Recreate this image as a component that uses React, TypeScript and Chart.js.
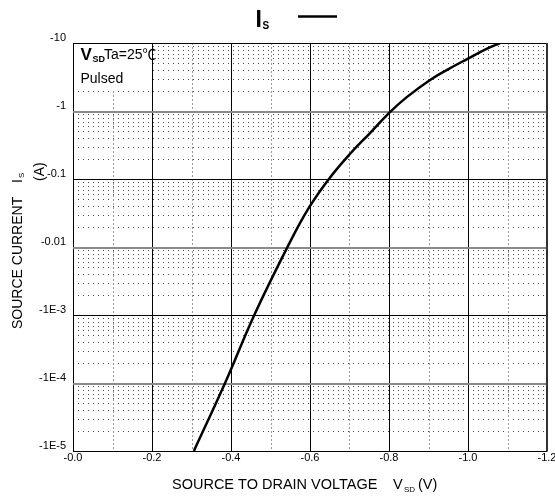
import React, { useEffect, useRef } from "react";
import { Chart, registerables } from "chart.js";

Chart.register(...registerables);

// ---- data ----
const seriesMain = "I";
const seriesSub = "S";
const vsdVolts = [-0.306, -0.385, -0.459, -0.543, -0.595, -0.646, -0.701, -0.752, -0.803, -0.845, -0.904, -0.946, -1.0, -1.047, -1.081];
const isAmps = [-1e-5, -1e-4, -1e-3, -1e-2, -0.036, -0.097, -0.233, -0.474, -0.97, -1.6, -2.86, -4.0, -5.9, -8.2, -10];

const xTickValues = [0, -0.2, -0.4, -0.6, -0.8, -1.0, -1.2];
const xTickLabels = ["-0.0", "-0.2", "-0.4", "-0.6", "-0.8", "-1.0", "-1.2"];
const xMinorValues = [-0.1, -0.3, -0.5, -0.7, -0.9, -1.1];
const yTickValues = [1e-5, 1e-4, 1e-3, 1e-2, 0.1, 1, 10];
const yTickLabels = ["-1E-5", "-1E-4", "-1E-3", "-0.01", "-0.1", "-1", "-10"];
const yMinorMultipliers = [2, 3, 4, 5, 6, 7, 8, 9];

const xTitle = "SOURCE TO DRAIN VOLTAGE";
const xTitleSym = "V";
const xTitleSub = "SD";
const xTitleUnit = "(V)";
const yTitle = "SOURCE CURRENT";
const yTitleSym = "I";
const yTitleSub = "S";
const yTitleUnit = "(A)";
const insetSym = "V";
const insetSub = "SD";
const insetCond = "Ta=25℃";
const insetMode = "Pulsed";

const FAM = '"Liberation Sans", Arial, "Noto Sans CJK SC", sans-serif';

const gridPlugin = {
  id: "customGrid",
  beforeDatasetsDraw(chart: any) {
    const { ctx, chartArea, scales } = chart;
    const { left, right, top, bottom } = chartArea;
    const xs = scales.x;
    const ys = scales.y;
    ctx.save();
    // minor horizontal dotted
    ctx.strokeStyle = "#4a4a4a";
    ctx.lineWidth = 1;
    ctx.setLineDash([1, 4]);
    for (let d = 0; d < yTickValues.length - 1; d++) {
      for (const m of yMinorMultipliers) {
        const py = Math.round(ys.getPixelForValue(yTickValues[d] * m)) + 0.5;
        ctx.beginPath();
        ctx.moveTo(left, py);
        ctx.lineTo(right, py);
        ctx.stroke();
      }
    }
    // minor vertical dotted
    ctx.strokeStyle = "#9a9a9a";
    ctx.setLineDash([2, 2]);
    for (const v of xMinorValues) {
      const px = Math.round(xs.getPixelForValue(v)) + 0.5;
      ctx.beginPath();
      ctx.moveTo(px, top);
      ctx.lineTo(px, bottom);
      ctx.stroke();
    }
    ctx.setLineDash([]);
    // white box behind inset text
    ctx.fillStyle = "#fff";
    ctx.fillRect(left + 1, top + 1, xs.getPixelForValue(-0.2) - left - 2, 45);
    // major vertical
    ctx.strokeStyle = "#000";
    ctx.lineWidth = 1;
    for (const v of xTickValues) {
      const px = Math.round(xs.getPixelForValue(v)) + 0.5;
      ctx.beginPath();
      ctx.moveTo(px, top);
      ctx.lineTo(px, bottom);
      ctx.stroke();
    }
    // major horizontal
    yTickValues.forEach((v, i) => {
      const p = ys.getPixelForValue(v);
      const gray = i % 2 === 1;
      ctx.beginPath();
      if (gray) {
        ctx.strokeStyle = "#8a8a8a";
        ctx.lineWidth = 2;
        const py = Math.round(p) + 1;
        ctx.moveTo(left, py);
        ctx.lineTo(right, py);
      } else {
        ctx.strokeStyle = "#000";
        ctx.lineWidth = 1;
        const py = Math.round(p) + 0.5;
        ctx.moveTo(left, py);
        ctx.lineTo(right, py);
      }
      ctx.stroke();
    });
    // right border thicker
    ctx.strokeStyle = "#333";
    ctx.lineWidth = 2;
    ctx.beginPath();
    ctx.moveTo(Math.round(right), top);
    ctx.lineTo(Math.round(right), bottom + 0.5);
    ctx.stroke();
    ctx.restore();
  },
  afterDraw(chart: any) {
    const { ctx } = chart;
    ctx.save();
    ctx.fillStyle = "#000";
    ctx.textBaseline = "alphabetic";
    ctx.textAlign = "left";
    // legend
    ctx.font = `bold 23px ${FAM}`;
    ctx.fillText(seriesMain, 255.5, 27);
    ctx.font = `bold 10px ${FAM}`;
    ctx.fillText(seriesSub, 262.5, 28.5);
    ctx.strokeStyle = "#000";
    ctx.lineWidth = 2.5;
    ctx.beginPath();
    ctx.moveTo(298, 16.5);
    ctx.lineTo(337, 16.5);
    ctx.stroke();
    // inset
    ctx.font = `bold 17px ${FAM}`;
    ctx.fillText(insetSym, 80.5, 59.5);
    ctx.font = `bold 9px ${FAM}`;
    ctx.fillText(insetSub, 92.5, 61.5);
    ctx.font = `14px ${FAM}`;
    ctx.fillText(insetCond, 104, 59);
    ctx.fillText(insetMode, 80.5, 83);
    // x title
    ctx.font = `14.5px ${FAM}`;
    ctx.fillText(xTitle, 172, 489);
    ctx.fillText(xTitleSym, 393, 489);
    ctx.fillText(xTitleUnit, 418, 489);
    ctx.font = `8px ${FAM}`;
    ctx.fillText(xTitleSub, 404, 492);
    // y title (rotated)
    const rot = (text: string, font: string, x: number, y: number) => {
      ctx.save();
      ctx.translate(x, y);
      ctx.rotate(-Math.PI / 2);
      ctx.font = font;
      ctx.fillText(text, 0, 0);
      ctx.restore();
    };
    rot(yTitle, `14px ${FAM}`, 21.5, 329);
    rot(yTitleSym, `14px ${FAM}`, 21.5, 183);
    rot(yTitleSub, `8px ${FAM}`, 23.5, 178);
    rot(yTitleUnit, `14px ${FAM}`, 44, 181);
    ctx.restore();
  },
};

export default function App() {
  const ref = useRef<HTMLCanvasElement | null>(null);
  useEffect(() => {
    if (!ref.current) return;
    const points = vsdVolts.map((v, i) => ({ x: v, y: -isAmps[i] }));
    const chart = new Chart(ref.current, {
      type: "line",
      data: {
        datasets: [
          {
            label: seriesMain + seriesSub,
            data: points,
            borderColor: "#000",
            borderWidth: 2.5,
            pointRadius: 0,
            fill: false,
            tension: 0.4,
          },
        ],
      },
      options: {
        animation: false,
        responsive: false,
        layout: { padding: { left: 0, right: 8, top: 43, bottom: 0 } },
        plugins: { legend: { display: false }, title: { display: false }, tooltip: { enabled: false } },
        scales: {
          x: {
            type: "linear",
            reverse: true,
            min: -1.2,
            max: 0,
            grid: { display: false, drawTicks: false },
            border: { display: false },
            afterBuildTicks: (s: any) => {
              s.ticks = [...xTickValues].sort((a, b) => a - b).map((v) => ({ value: v }));
            },
            ticks: {
              autoSkip: false,
              maxRotation: 0,
              padding: 0,
              color: "#000",
              font: { size: 11, family: FAM },
              callback: (v: any) => {
                const i = xTickValues.findIndex((t) => Math.abs(t - Number(v)) < 1e-6);
                return i >= 0 ? xTickLabels[i] : "";
              },
            },
            afterFit: (s: any) => {
              s.height = 46;
              s.paddingLeft = 0;
              s.paddingRight = 0;
            },
          },
          y: {
            type: "logarithmic",
            min: 1e-5,
            max: 10,
            grid: { display: false, drawTicks: false },
            border: { display: false },
            afterBuildTicks: (s: any) => {
              s.ticks = yTickValues.map((v) => ({ value: v }));
            },
            ticks: {
              autoSkip: false,
              padding: 7,
              labelOffset: -5,
              color: "#000",
              font: { size: 11, family: FAM },
              callback: (v: any) => {
                const i = yTickValues.findIndex((t) => Math.abs(Math.log10(t) - Math.log10(Number(v))) < 1e-6);
                return i >= 0 ? yTickLabels[i] : "";
              },
            },
            afterFit: (s: any) => {
              s.width = 73;
              s.paddingTop = 0;
              s.paddingBottom = 0;
            },
          },
        },
      },
      plugins: [gridPlugin],
    } as any);
    return () => chart.destroy();
  }, []);
  return (
    <div style={{ position: "fixed", left: 0, top: 0, width: 555, height: 497, background: "#fff", overflow: "hidden" }}>
      <canvas ref={ref} width={555} height={497} style={{ display: "block" }} />
    </div>
  );
}
